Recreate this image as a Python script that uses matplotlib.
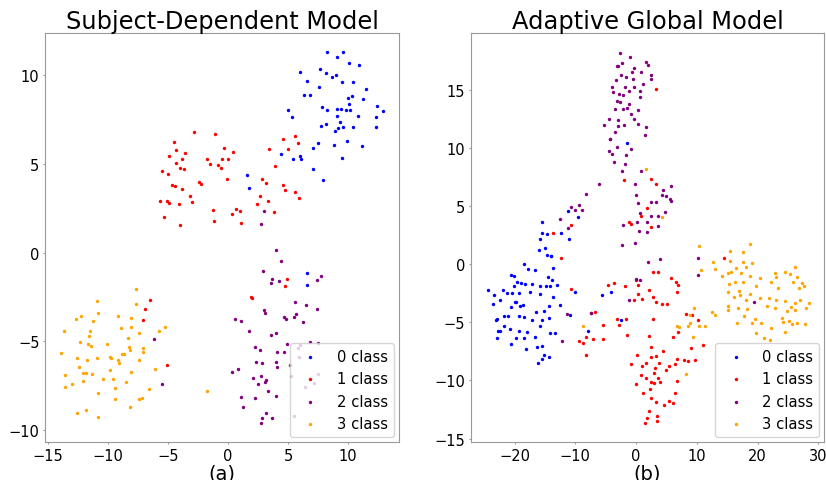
import numpy as np
import matplotlib
matplotlib.use('Agg')
import matplotlib.pyplot as plt

labels = ['0 class', '1 class', '2 class', '3 class']
colors = ['blue', 'red', 'purple', 'orange']

# (a) Subject-Dependent Model
sd_c0 = np.array([
    (8.25, 11.29), (9.53, 11.27), (9.06, 11.01), (10.03, 10.67), (10.89, 10.52), (6.0, 10.13),
    (7.64, 10.34), (8.17, 10.07), (8.97, 10.0), (8.64, 9.85), (6.58, 9.64), (9.5, 9.59),
    (10.39, 9.59), (7.58, 9.29), (11.47, 9.19), (6.31, 8.84), (6.86, 8.84), (10.33, 8.80),
    (9.97, 8.71), (11.19, 8.61), (10.03, 8.37), (5.03, 8.01), (7.83, 8.18), (8.25, 8.01),
    (9.06, 8.05), (9.39, 8.07), (9.83, 8.0), (10.11, 8.03), (12.39, 8.22), (12.92, 7.94),
    (5.33, 7.62), (9.06, 7.68), (10.83, 7.68), (12.31, 7.62), (9.33, 7.34), (7.72, 7.10),
    (8.17, 7.25), (9.11, 6.99), (9.58, 7.04), (10.39, 7.04), (12.33, 7.06), (8.94, 6.82),
    (7.47, 6.16), (7.03, 5.88), (8.83, 6.03), (9.92, 6.27), (11.14, 5.99), (4.44, 5.54),
    (9.5, 5.34), (5.97, 5.45), (5.42, 5.26), (6.08, 5.26), (7.03, 4.70), (7.92, 4.10),
    (1.61, 4.33), (1.75, 3.63), (6.58, -1.13), (6.53, -1.83)])
sd_c1 = np.array([
    (-2.83, 6.78), (-1.08, 6.67), (-4.5, 6.24), (-4.33, 5.75), (-3.58, 5.62), (-4.89, 5.43),
    (-0.36, 5.90), (0.39, 5.64), (-3.81, 5.26), (-4.31, 5.04), (-1.78, 5.26), (-0.5, 5.28),
    (-0.03, 5.28), (-1.5, 4.98), (-0.86, 4.91), (-0.58, 4.76), (-3.97, 4.74), (-3.67, 4.72),
    (-5.47, 4.57), (-4.97, 4.42), (-0.08, 4.14), (-2.44, 3.97), (-2.25, 3.86), (-4.69, 3.82),
    (-4.39, 3.75), (-3.86, 3.58), (-3.19, 3.20), (-3.03, 2.83), (-5.64, 2.90), (-5.11, 2.90),
    (-4.92, 2.81), (-4.06, 2.70), (-5.33, 1.99), (-3.97, 1.54), (-1.22, 2.40), (-1.14, 1.76),
    (0.64, 2.42), (0.36, 2.17), (1.0, 2.32), (1.06, 1.65), (3.42, 5.81), (4.56, 6.40),
    (5.56, 6.54), (5.86, 6.18), (5.03, 5.82), (3.89, 4.85), (2.86, 4.12), (3.19, 3.93),
    (4.61, 3.78), (4.75, 3.54), (5.56, 3.39), (5.92, 3.05), (2.64, 3.16), (3.31, 2.87),
    (2.39, 2.70), (3.83, 2.25), (-6.5, -2.65), (-6.94, -3.17), (-7.06, -3.81), (-5.06, -6.32),
    (4.92, -1.49), (4.78, -1.88), (1.89, -2.5), (2.03, -2.56)])
sd_c2 = np.array([
    (2.97, 2.36), (2.72, 1.63), (3.97, 0.14), (4.39, -0.46), (2.92, -1.06), (3.64, -1.49),
    (3.58, -1.73), (4.22, -1.58), (7.44, -1.53), (7.72, -1.30), (6.47, -2.93), (7.42, -3.19),
    (5.58, -2.80), (5.64, -3.44), (5.53, -3.62), (4.69, -3.62), (4.81, -3.72), (6.28, -3.90),
    (3.03, -3.25), (3.08, -3.42), (0.56, -3.75), (1.06, -3.83), (1.75, -4.39), (3.97, -4.54),
    (3.61, -4.62), (4.89, -5.12), (6.0, -5.20), (6.78, -5.05), (7.47, -5.07), (2.22, -5.33),
    (2.69, -5.48), (4.11, -5.57), (4.69, -5.57), (2.31, -6.13), (2.86, -6.21), (4.03, -6.15),
    (4.11, -6.43), (0.86, -6.53), (0.33, -6.69), (2.06, -7.07), (2.72, -6.96), (3.19, -7.16),
    (3.08, -7.29), (2.53, -7.41), (3.36, -7.76), (3.97, -8.04), (1.11, -8.14), (2.28, -8.16),
    (1.22, -8.68), (3.17, -9.0), (2.86, -9.28), (3.69, -9.32), (2.78, -9.6), (-6.19, -4.86),
    (-5.5, -7.39), (5.86, -5.37), (5.89, -5.87), (5.17, -6.32), (5.22, -6.92), (7.5, -6.84),
    (7.14, -7.31), (6.44, -7.54), (5.47, -9.2)])
sd_c3 = np.array([
    (-7.69, -2.03), (-7.69, -2.87), (-10.86, -2.74), (-10.83, -3.42), (-12.61, -3.74),
    (-12.19, -3.55), (-11.25, -3.85), (-9.11, -3.59), (-8.08, -3.68), (-8.03, -4.20),
    (-8.86, -4.24), (-11.44, -4.41), (-11.58, -4.69), (-13.61, -4.41), (-7.44, -4.52),
    (-8.28, -4.82), (-5.78, -4.41), (-5.22, -4.20), (-12.33, -5.01), (-11.64, -5.14),
    (-11.39, -5.25), (-10.03, -5.12), (-8.25, -5.29), (-8.19, -5.48), (-7.11, -5.35),
    (-7.08, -5.61), (-8.81, -5.70), (-8.67, -5.70), (-13.86, -5.66), (-12.53, -5.91),
    (-11.75, -6.04), (-10.92, -5.95), (-9.78, -5.87), (-9.72, -5.91), (-9.14, -6.02),
    (-9.03, -6.21), (-7.44, -6.04), (-6.06, -6.56), (-12.39, -6.45), (-12.08, -6.77),
    (-11.81, -6.77), (-11.33, -6.84), (-9.78, -6.62), (-8.03, -6.71), (-13.53, -6.88),
    (-10.36, -7.11), (-9.58, -7.11), (-12.06, -7.22), (-8.47, -7.29), (-12.94, -7.39),
    (-13.56, -7.54), (-9.42, -7.59), (-6.53, -7.67), (-10.83, -7.87), (-9.42, -8.21),
    (-7.42, -8.25), (-7.17, -8.17), (-12.53, -9.04), (-11.83, -8.85), (-8.11, -8.68),
    (-10.83, -9.22), (-1.75, -7.78)])

# (b) Adaptive Global Model
ag_c0 = np.array([
    (-1.53, 10.40), (-15.40, 3.61), (-11.23, 4.56), (-9.48, 4.01), (-15.45, 2.64), (-14.74, 2.61),
    (-12.33, 2.64), (-15.89, 2.15), (-11.01, 2.18), (-15.07, 1.40), (-15.95, 1.17), (-14.68, 0.77),
    (-14.08, 0.72), (-13.92, 0.66), (-18.52, 0.0), (-17.81, -0.46), (-16.60, -0.54), (-13.64, -0.37),
    (-20.11, -1.0), (-20.66, -0.92), (-18.90, -1.63), (-19.56, -1.58), (-18.30, -1.72), (-17.15, -1.69),
    (-14.52, -1.12), (-13.86, -1.38), (-14.19, -1.89), (-12.99, -1.78), (-20.11, -1.86), (-15.73, -1.89),
    (-14.90, -1.89), (-24.38, -2.21), (-21.97, -2.21), (-23.45, -2.69), (-21.21, -2.52), (-20.44, -2.49),
    (-19.23, -2.52), (-17.48, -2.41), (-15.78, -2.61), (-13.75, -2.84), (-12.60, -3.52), (-10.90, -4.38),
    (-22.47, -3.09), (-23.51, -3.44), (-19.18, -3.58), (-14.41, -3.58), (-20.55, -3.67), (-20.0, -3.24),
    (-19.73, -3.30), (-18.68, -3.55), (-15.18, -4.07), (-16.55, -4.10), (-14.41, -4.61), (-21.75, -4.50),
    (-21.10, -4.50), (-19.29, -4.50), (-18.41, -4.56), (-17.15, -4.84), (-15.40, -4.79), (-22.85, -4.76),
    (-23.01, -4.79), (-9.97, -2.44), (-22.74, -5.76), (-22.36, -5.76), (-21.70, -5.36), (-15.84, -5.36),
    (-20.71, -5.62), (-19.29, -5.79), (-17.92, -5.85), (-18.47, -6.39), (-14.14, -5.90), (-13.26, -5.90),
    (-16.66, -6.25), (-22.85, -6.39), (-20.60, -6.91), (-19.78, -6.36), (-15.40, -7.02), (-18.08, -7.28),
    (-16.33, -7.11), (-15.12, -7.79), (-14.41, -7.99), (-15.40, -8.19), (-16.16, -8.51), (-5.53, -2.64),
    (-4.16, -2.44), (-2.41, -4.84), (-7.89, -5.76)])
ag_c1 = np.array([
    (3.29, 15.10), (-1.92, 7.22), (2.47, 7.31), (3.23, 6.85), (1.81, 4.84), (0.77, 4.13),
    (-1.21, 3.64), (-0.88, 3.41), (-10.74, 3.38), (2.47, 3.15), (-13.75, 2.69), (-12.33, 0.49),
    (14.52, 0.52), (-10.63, -2.15), (-7.40, -4.21), (-6.79, -4.15), (-9.32, -6.62), (-8.66, -6.79),
    (-8.16, -6.30), (-7.07, -6.42), (-5.48, -6.42), (-8.16, -7.79), (-5.37, -5.24), (-4.66, -1.81),
    (-3.56, -1.63), (-1.81, -1.92), (-3.12, -4.73), (-2.79, -5.27), (-1.59, -4.76), (-1.48, -6.10),
    (-0.05, -1.38), (0.27, -1.81), (-0.33, -3.09), (0.38, -2.61), (1.04, -3.01), (2.19, -2.26),
    (2.79, -2.84), (3.34, -3.30), (4.27, -3.47), (2.74, -0.72), (3.56, -0.72), (5.75, -1.17),
    (6.52, -1.52), (6.90, -1.83), (6.74, -2.38), (2.85, -4.76), (2.19, -6.16), (5.04, -3.47),
    (6.03, -6.25), (6.85, -5.85), (8.27, -4.30), (9.21, -4.36), (10.14, -4.81), (9.10, -7.19),
    (9.64, -8.25), (10.96, -6.96), (-0.82, -8.62), (0.11, -7.82), (0.93, -8.77), (1.59, -8.51),
    (2.47, -7.99), (3.29, -7.88), (2.47, -7.16), (3.78, -8.48), (4.49, -7.51), (5.37, -8.74),
    (6.36, -8.60), (6.79, -8.19), (7.95, -8.28), (8.55, -8.34), (0.77, -9.51), (1.59, -9.83),
    (2.96, -9.34), (3.18, -8.91), (3.56, -9.80), (2.52, -10.17), (2.90, -10.23), (4.00, -10.17),
    (4.88, -9.08), (-0.05, -10.32), (1.15, -11.06), (2.30, -10.77), (6.68, -10.03), (6.41, -11.06),
    (2.41, -11.55), (3.34, -11.83), (4.66, -12.09), (5.42, -11.81), (6.03, -11.92), (2.14, -12.61),
    (3.45, -13.04), (1.81, -13.27), (3.51, -13.50), (1.42, -13.67)])
ag_c2 = np.array([
    (-2.63, 18.19), (-1.04, 17.82), (1.64, 17.42), (-2.30, 17.28), (-3.12, 17.02), (-2.96, 17.02),
    (1.97, 17.08), (-0.38, 16.83), (-0.71, 16.53), (0.88, 16.50), (-2.47, 16.30), (-1.59, 16.10),
    (2.52, 16.30), (-0.55, 15.93), (2.47, 15.93), (-3.29, 15.79), (1.21, 15.53), (-3.95, 15.27),
    (-1.86, 15.24), (-0.27, 15.24), (-3.84, 14.79), (-2.74, 14.67), (-2.19, 14.53), (-1.15, 14.90),
    (0.66, 14.87), (0.60, 14.41), (-3.18, 14.01), (-2.58, 13.95), (-1.21, 13.81), (-3.51, 13.30),
    (-2.14, 13.35), (-1.48, 13.44), (0.38, 13.24), (-0.88, 12.92), (-4.49, 12.49), (-2.90, 12.35),
    (-0.27, 12.44), (-5.32, 11.98), (-2.90, 11.86), (-2.03, 11.95), (0.38, 12.06), (1.59, 11.81),
    (-3.51, 11.32), (1.42, 11.06), (-4.27, 10.80), (-4.22, 10.74), (-3.07, 10.03), (-0.88, 9.94),
    (-4.44, 9.71), (-3.95, 9.51), (-1.59, 9.37), (-3.67, 8.77), (-1.86, 8.57), (-2.36, 7.97),
    (0.77, 7.97), (-6.14, 6.88), (-0.22, 6.88), (-8.27, 6.07), (0.0, 5.96), (5.70, 6.68),
    (4.49, 6.33), (4.22, 5.96), (4.99, 5.87), (5.53, 5.59), (5.75, 5.42), (2.41, 5.36),
    (3.23, 5.33), (0.27, 5.27), (-10.79, 4.93), (-9.37, 5.10), (-10.08, 4.64), (-8.93, 4.61),
    (-12.55, 3.84), (-11.12, 3.07), (0.66, 4.41), (4.82, 4.50), (3.56, 4.15), (2.52, 4.10),
    (-2.19, 3.32), (0.16, 3.61), (1.81, 3.58), (3.62, 3.24), (0.44, 2.87), (1.81, 2.78),
    (-2.36, 1.66), (-0.22, 1.78), (1.92, 0.17), (3.95, 0.40), (0.05, -1.26), (0.60, -1.35),
    (-1.15, -3.07), (10.19, 0.49), (10.14, -0.97), (-11.40, -4.30), (-12.16, -6.62), (-7.45, -4.24),
    (19.34, -3.30)])
ag_c3 = np.array([
    (1.64, 8.17), (4.27, 4.07), (10.30, 1.52), (18.68, 1.72), (15.51, 1.12), (17.53, 1.03),
    (15.51, 0.23), (12.60, 0.14), (12.99, -0.46), (10.74, -0.54), (17.59, 0.14), (19.12, 0.06),
    (18.08, -0.26), (16.38, -0.37), (15.62, -0.66), (17.26, -0.74), (15.12, -0.80), (14.19, -1.0),
    (18.68, -1.0), (20.33, -1.23), (16.33, -1.52), (17.59, -1.52), (22.85, -0.74), (24.44, -0.72),
    (25.37, -0.89), (26.14, -0.29), (22.96, -1.15), (26.58, -1.12), (22.14, -1.52), (25.92, -1.52),
    (27.29, -1.60), (26.90, -2.06), (27.67, -1.86), (23.45, -2.09), (15.34, -1.75), (15.18, -2.38),
    (16.88, -2.29), (18.74, -2.55), (17.15, -2.69), (19.67, -1.86), (16.05, -2.84), (20.44, -2.92),
    (21.86, -2.89), (23.07, -3.07), (18.14, -3.07), (24.44, -3.21), (26.14, -3.32), (27.01, -3.12),
    (28.44, -3.32), (15.07, -3.58), (15.12, -3.95), (16.71, -3.75), (18.25, -3.90), (21.53, -3.61),
    (25.59, -3.70), (26.25, -3.95), (28.0, -3.81), (22.85, -3.81), (24.88, -4.04), (23.95, -4.67),
    (24.27, -4.96), (25.21, -4.90), (25.70, -5.16), (26.47, -5.07), (27.84, -5.13), (16.60, -5.10),
    (17.75, -4.50), (19.12, -5.04), (19.51, -4.73), (20.60, -5.07), (19.73, -5.93), (21.10, -6.36),
    (22.08, -6.56), (22.19, -5.50), (24.55, -5.87), (9.48, -3.75), (8.93, -4.38), (8.88, -5.10),
    (10.36, -5.30), (11.34, -5.30), (8.55, -5.36), (6.79, -5.36), (7.01, -5.44), (9.32, -6.25),
    (12.49, -4.15), (13.04, -4.38), (-8.71, -5.30), (8.16, -9.43)])

plt.rcParams['axes.edgecolor'] = '0.6'

fig = plt.figure(figsize=(8.26, 4.81), dpi=100)
ax1 = fig.add_axes([0.0545, 0.079, 0.4285, 0.850])
ax2 = fig.add_axes([0.570, 0.079, 0.428, 0.850])

panels = [
    (ax1, [sd_c0, sd_c1, sd_c2, sd_c3], 'Subject-Dependent Model', '(a)', (-15.22, 14.22), (-10.65, 12.33)),
    (ax2, [ag_c0, ag_c1, ag_c2, ag_c3], 'Adaptive Global Model', '(b)', (-27.2, 31.0), (-15.3, 19.86)),
]

for ax, groups, title, xlabel, xlim, ylim in panels:
    for pts, c, lab in zip(groups, colors, labels):
        ax.scatter(pts[:, 0], pts[:, 1], s=6, c=c, linewidths=0, label=lab)
    ax.set_xlim(*xlim)
    ax.set_ylim(*ylim)
    ax.set_title(title, fontsize=17.4, pad=4)
    ax.set_xlabel(xlabel, fontsize=14, labelpad=1)
    ax.tick_params(labelsize=10.5, color='0.6', length=1.5, pad=2.5)
    ax.legend(loc='lower right', fontsize=10.6, borderaxespad=0.35)

ax2.set_xticks([-20, -10, 0, 10, 20, 30])
ax2.set_yticks([-15, -10, -5, 0, 5, 10, 15])

fig.savefig('out.png', dpi=100)
